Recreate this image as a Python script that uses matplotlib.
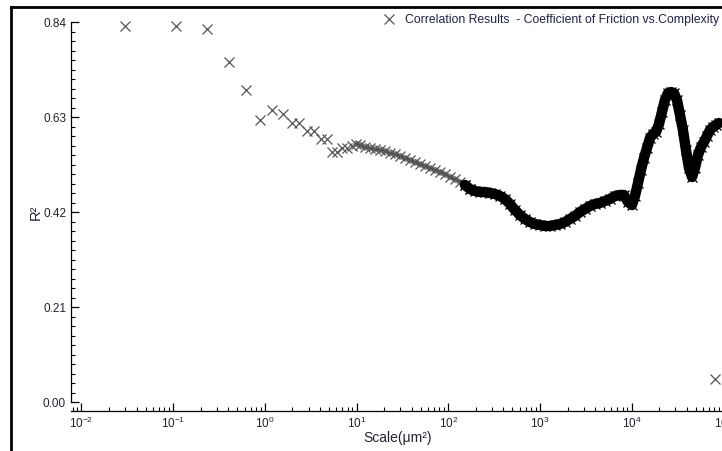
import numpy as np
import matplotlib
matplotlib.use("Agg")
import matplotlib.pyplot as plt
import matplotlib.ticker as ticker
from matplotlib.lines import Line2D

plt.rcParams['font.family'] = ['Liberation Sans', 'DejaVu Sans']

# sparse points at small scales (log10 of scale, R^2)
sparse_log = [-1.522, -0.969, -0.631, -0.395, -0.206, -0.053, 0.077, 0.194, 0.296, 0.372,
              0.462, 0.535, 0.608, 0.674, 0.732, 0.783, 0.838, 0.892, 0.947]
sparse_r2 = [0.8325, 0.8325, 0.8245, 0.7515, 0.690, 0.624, 0.645, 0.638, 0.6166, 0.6166,
             0.600, 0.600, 0.581, 0.581, 0.554, 0.554, 0.561, 0.561, 0.566]

# dense part of the curve (log10 of scale, R^2)
dense_log = [0.994, 1.037, 1.092, 1.146, 1.201, 1.255, 1.310, 1.364, 1.419, 1.473,
             1.528, 1.582, 1.637, 1.691, 1.746, 1.800, 1.855, 1.910, 1.964, 2.019,
             2.073, 2.128, 2.182, 2.237, 2.291, 2.346, 2.400, 2.455, 2.509, 2.564,
             2.618, 2.673, 2.727, 2.782, 2.836, 2.891, 2.945, 3.000, 3.055, 3.109,
             3.164, 3.218, 3.273, 3.327, 3.382, 3.436, 3.491, 3.545, 3.600, 3.654,
             3.709, 3.763, 3.818, 3.872, 3.916, 3.960, 4.003, 4.036, 4.069, 4.101,
             4.134, 4.167, 4.200, 4.232, 4.265, 4.298, 4.330, 4.363, 4.396, 4.429,
             4.461, 4.494, 4.527, 4.559, 4.592, 4.625, 4.658, 4.690, 4.723, 4.756,
             4.788, 4.821, 4.854, 4.887, 4.919, 4.952]
dense_r2 = [0.5708, 0.5686, 0.5642, 0.5619, 0.5597, 0.5575, 0.5553, 0.5509, 0.5487, 0.5442,
            0.5398, 0.5354, 0.5310, 0.5265, 0.5221, 0.5177, 0.5133, 0.5088, 0.5044, 0.4978,
            0.4934, 0.4867, 0.4801, 0.4712, 0.4668, 0.4646, 0.4646, 0.4624, 0.4602, 0.4558,
            0.4491, 0.4381, 0.4248, 0.4137, 0.4049, 0.3982, 0.3938, 0.3916, 0.3894, 0.3894,
            0.3916, 0.3938, 0.3982, 0.4049, 0.4115, 0.4204, 0.4270, 0.4336, 0.4381, 0.4403,
            0.4447, 0.4491, 0.4558, 0.4580, 0.4580, 0.4425, 0.4358, 0.4558, 0.4845, 0.5133,
            0.5398, 0.5619, 0.5841, 0.5929, 0.5973, 0.6150, 0.6416, 0.6681, 0.6836, 0.6858,
            0.6836, 0.6681, 0.6350, 0.6018, 0.5575, 0.5177, 0.4978, 0.5177, 0.5465, 0.5642,
            0.5752, 0.5885, 0.6018, 0.6084, 0.6128, 0.6173]

# lone outlier at the largest scale
outlier_log = [4.910]
outlier_r2 = [0.051]

yticks = [0.00, 0.21, 0.42, 0.63, 0.84]

sparse_x = 10 ** np.array(sparse_log)
dense_x = 10 ** np.array(dense_log)
dense_y = np.array(dense_r2)
outlier_x = 10 ** np.array(outlier_log)

fig = plt.figure(figsize=(7.22, 4.51), dpi=100)
ax = fig.add_axes([0.0983, 0.0876, 0.9036, 0.8829])

mk = dict(marker='x', linestyle='none', ms=6.5, mew=0.9)
ax.plot(sparse_x, sparse_r2, color='#555555', label='Correlation Results  - Coefficient of Friction vs.Complexity', **mk)

# grey hatched band on the left, heavy black band on the right
left = np.array(dense_log) <= 2.24
right = np.array(dense_log) >= 2.18
ax.plot(dense_x[left], dense_y[left], color='#777777', lw=4.0, solid_capstyle='round', alpha=0.8)
ax.plot(dense_x[left], dense_y[left], color='#444444', lw=1.2)
ax.plot(dense_x[left], dense_y[left], color='#555555', **mk)
ax.plot(dense_x[right], dense_y[right], color='black', lw=7.5, solid_capstyle='round', solid_joinstyle='round')
ax.plot(dense_x[right], dense_y[right], color='black', **mk)
ax.plot(outlier_x, outlier_r2, color='#555555', **mk)

ax.set_xscale('log')
ax.set_xlim(10 ** -2.1145, 10 ** 5)
ax.set_ylim(-0.021, 0.86)
ax.set_yticks(yticks)
ax.yaxis.set_major_formatter(ticker.FormatStrFormatter('%.2f'))
ax.yaxis.set_minor_locator(ticker.MultipleLocator(0.021))
ax.xaxis.set_major_locator(ticker.FixedLocator(10.0 ** np.arange(-2, 6)))
ax.xaxis.set_minor_locator(ticker.LogLocator(base=10, subs=np.arange(2, 10), numticks=20))

ax.spines['top'].set_visible(False)
ax.spines['right'].set_visible(False)
ax.spines['left'].set_bounds(0, 0.84)
for s in ['left', 'bottom']:
    ax.spines[s].set_linewidth(0.9)
ax.tick_params(which='both', direction='in', colors='black', labelcolor='#222233', labelsize=8.5)
ax.tick_params(which='major', length=5.5, width=0.9)
ax.tick_params(which='minor', length=3, width=0.8)
ax.tick_params(axis='x', pad=3)

ax.set_xlabel('Scale(μm²)', fontsize=10, color='#222233', labelpad=0)
ax.set_ylabel('R²', fontsize=10.5, color='#222233', labelpad=0)

leg = ax.legend(loc='upper right', bbox_to_anchor=(1.006, 0.985), bbox_transform=fig.transFigure,
                frameon=False, fontsize=8.8, handlelength=1.0, handletextpad=0.8, borderaxespad=0.2)
for t in leg.get_texts():
    t.set_color('#202050')

# outer frame (top and left edges visible)
fig.add_artist(Line2D([11 / 722, 1.0], [1 - 7 / 451, 1 - 7 / 451], transform=fig.transFigure, color='black', lw=2))
fig.add_artist(Line2D([11 / 722, 11 / 722], [0.0, 1 - 7 / 451], transform=fig.transFigure, color='black', lw=2))

fig.savefig('out.png', dpi=100)
